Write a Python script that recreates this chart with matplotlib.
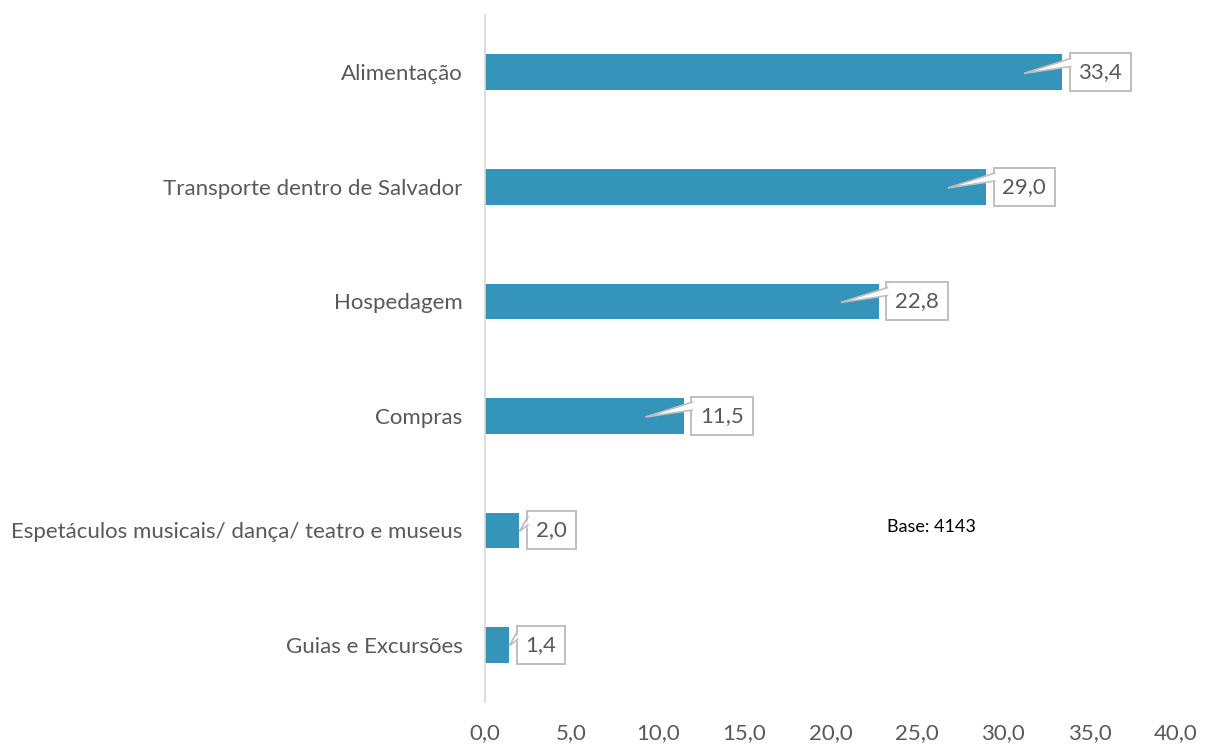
import matplotlib
matplotlib.use('Agg')
import matplotlib.pyplot as plt

# data
categorias = ['Alimentação', 'Transporte dentro de Salvador', 'Hospedagem', 'Compras',
              'Espetáculos musicais/ dança/ teatro e museus', 'Guias e Excursões']
valores = [33.4, 29.0, 22.8, 11.5, 2.0, 1.4]
rotulos = ['33,4', '29,0', '22,8', '11,5', '2,0', '1,4']
xticks = [0, 5, 10, 15, 20, 25, 30, 35, 40]
xticklabels = ['0,0', '5,0', '10,0', '15,0', '20,0', '25,0', '30,0', '35,0', '40,0']

plt.rcParams['font.family'] = ['Lato', 'DejaVu Sans']
cinza = '#595959'
borda = '#BFBFBF'

fig = plt.figure(figsize=(12.15, 7.47), dpi=100)
ax = fig.add_axes([0.399, 0.060, 0.569, 0.920])

ypos = list(range(len(categorias)))
ax.barh(ypos, valores, height=0.31, color='#3494BA', zorder=2)
ax.set_ylim(len(categorias) - 0.5, -0.5)
ax.set_xlim(0, 40)

ax.set_yticks(ypos)
ax.set_yticklabels(categorias, fontsize=16, color=cinza)
ax.set_xticks(xticks)
ax.set_xticklabels(xticklabels, fontsize=16, color=cinza)
ax.tick_params(length=0)
ax.tick_params(axis='y', pad=16)
ax.tick_params(axis='x', pad=15)

for s in ['top', 'right', 'bottom']:
    ax.spines[s].set_visible(False)
ax.spines['left'].set_color('#D9D9D9')
ax.spines['left'].set_linewidth(1.2)

# callout labels: box + wedge pointing into the bar
for y, v, r in zip(ypos, valores, rotulos):
    tip = v - 2.2 if v > 5 else v
    box_left = v + 0.5
    ax.text(v + 0.95, y, r, ha='left', va='center', fontsize=16, color=cinza,
            bbox=dict(boxstyle='square,pad=0.4', fc='white', ec=borda, lw=1.4),
            zorder=3)
    xs = [box_left + 0.15, tip, box_left + 0.15]
    ys = [y - 0.12, y + 0.01, y - 0.05]
    ax.fill(xs, ys, color='white', lw=0, zorder=4)
    ax.plot([box_left, tip, box_left], [y - 0.12, y + 0.01, y - 0.05],
            color=borda, lw=1.2, zorder=4, solid_joinstyle='miter')

fig.text(887 / 1215, 1 - 527 / 747, 'Base: 4143', fontsize=13, color='black',
         va='center', ha='left')

fig.savefig('out.png', dpi=100)
